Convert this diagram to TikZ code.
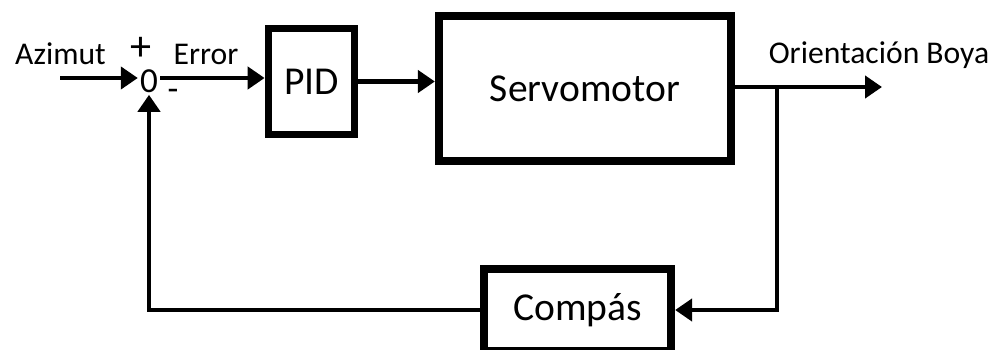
\documentclass[tikz,border=0pt]{standalone}
\usepackage{fontspec}
\setmainfont{Carlito}
\usetikzlibrary{arrows.meta}

\begin{document}
\begin{tikzpicture}[
		line width=2.6pt,
		flow/.style={-{Triangle[length=3.4mm,width=4.4mm]}},
		block/.style={draw, line width=4.4pt, inner sep=0pt, font=\fontsize{22.5}{24}\selectfont},
		lbl/.style={inner sep=0pt, font=\fontsize{18}{20}\selectfont}
	]
		\useasboundingbox (0, 0) rectangle (20.1, 6.98);
		
		\node[lbl] (azimut) at (1.21, 5.90) {Azimut};
		\node[lbl, font=\fontsize{20}{22}\selectfont] (sum) at (2.98, 5.36) {0};
		\node[lbl, font=\fontsize{24}{26}\selectfont] (plus) at (2.82, 6.0) {+};
		\node[lbl, font=\fontsize{20}{22}\selectfont] (minus) at (3.46, 5.08) {-};
		\node[lbl] (error) at (4.12, 5.90) {Error};
		\node[lbl] (orient) at (17.58, 5.88) {Orientación Boya};
		
		\node[block, minimum width=1.72cm, minimum height=2.12cm] (pid) at (6.23, 5.35) {PID};
		\node[block, minimum width=5.85cm, minimum height=2.91cm] (servo) at (11.7, 5.21) {Servomotor};
		\node[block, minimum width=3.75cm, minimum height=1.65cm] (compas) at (11.55, 0.78) {Compás};
		
		\coordinate (in) at (1.2, 5.42);
		\coordinate (out) at (17.64, 5.24);
		\coordinate (branch) at (15.54, 5.24);
		
		\draw[flow] (in) -- (sum.west |- in);
		\draw[flow] (sum.east |- in) -- (pid.west |- in);
		\draw[flow] (pid.east) -- (servo.west |- pid.east);
		\draw[flow] (servo.east |- out) -- (out);
		\draw[flow] (branch) |- (compas.east);
		\draw[flow] (compas.west) -| (sum.south);
	\end{tikzpicture}
\end{document}
